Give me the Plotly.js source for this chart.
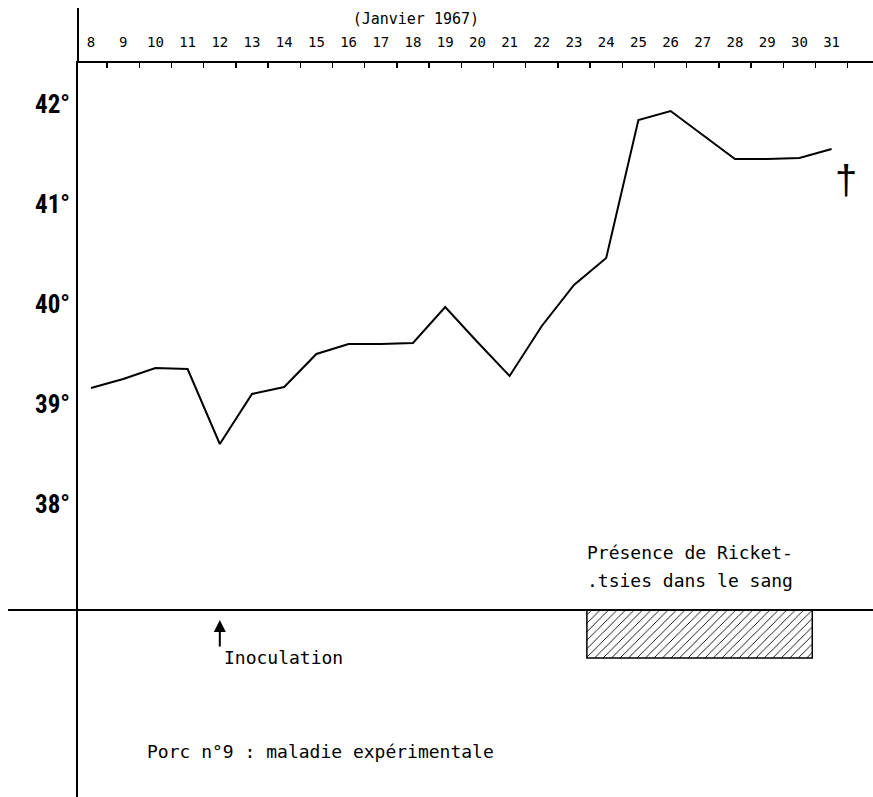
<!DOCTYPE html>
<html>
<head>
<meta charset="utf-8">
<script src="https://cdn.plot.ly/plotly-3.0.1.min.js"></script>
<style>html,body{margin:0;padding:0;background:#fff;}#chart{width:873px;height:797px;}</style>
</head>
<body>
<div id="chart"></div>
<script>
// Days of January 1967
const days = [8, 9, 10, 11, 12, 13, 14, 15, 16, 17, 18, 19, 20, 21, 22, 23, 24, 25, 26, 27, 28, 29, 30, 31];
// Rectal temperature (°C)
const temps = [39.16, 39.25, 39.36, 39.35, 38.60, 39.10, 39.17, 39.50, 39.60, 39.60, 39.61, 39.97,
               39.62, 39.28, 39.78, 40.19, 40.46, 41.84, 41.93, 41.69, 41.45, 41.45, 41.46, 41.55];
const yTickVals = [38, 39, 40, 41, 42];
const yTickText = ['38°', '39°', '40°', '41°', '42°'];
// Rickettsiae present in blood (day span)
const presenceDays = [23.4, 30.4];
const presenceLevels = [36.94, 36.46]; // band top (baseline) and bottom
const inoculationDay = 12;
const deathDay = 31.45;

const mono = 'DejaVu Sans Mono, monospace';

const tempTrace = {
  x: days, y: temps, type: 'scatter', mode: 'lines',
  line: {color: '#000', width: 2}, hoverinfo: 'skip', showlegend: false
};
const presenceTrace = {
  x: [presenceDays[0], presenceDays[1], presenceDays[1], presenceDays[0], presenceDays[0]],
  y: [presenceLevels[0], presenceLevels[0], presenceLevels[1], presenceLevels[1], presenceLevels[0]],
  type: 'scatter', mode: 'lines', fill: 'toself', fillcolor: 'rgba(0,0,0,0)',
  fillpattern: {shape: '/', fgcolor: '#000', bgcolor: '#fff', size: 6, solidity: 0.15},
  line: {color: '#000', width: 1.5}, hoverinfo: 'skip', showlegend: false
};

const layout = {
  width: 873, height: 797,
  margin: {l: 78, r: 0, t: 63, b: 0},
  paper_bgcolor: '#fff', plot_bgcolor: '#fff',
  showlegend: false,
  title: {text: '(Janvier 1967)', font: {family: mono, size: 15, color: '#000'},
          x: 0.425, xref: 'paper', xanchor: 'center', y: 0.977, yref: 'container', yanchor: 'middle'},
  xaxis: {
    range: [7.596, 32.286], side: 'top', showgrid: false, zeroline: false,
    showline: true, linecolor: '#000', linewidth: 2,
    tickvals: days, ticktext: days.map(String), ticks: '',
    ticklabelstandoff: 8,
    tickfont: {family: mono, size: 14, color: '#000'},
    minor: {tick0: 8.5, dtick: 1, ticks: 'inside', ticklen: 5, tickcolor: '#000', tickwidth: 1.5, showgrid: false}
  },
  yaxis: {
    range: [35.07, 42.41], showgrid: false, zeroline: false,
    showline: true, linecolor: '#000', linewidth: 2,
    tickvals: yTickVals, ticktext: yTickText, ticks: '',
    ticklabelstandoff: 1,
    tickfont: {family: 'Liberation Sans Narrow, Roboto Condensed, DejaVu Sans Condensed, sans-serif', size: 25, color: '#000', weight: 'bold'}
  },
  shapes: [
    {type: 'line', xref: 'paper', yref: 'paper', x0: 0, x1: 0, y0: 1, y1: 1.075, line: {color: '#000', width: 2}},
    {type: 'line', xref: 'paper', yref: 'y', x0: -0.088, x1: 1, y0: presenceLevels[0], y1: presenceLevels[0], line: {color: '#000', width: 2}}
  ],
  annotations: [
    {x: inoculationDay, y: 36.84, xref: 'x', yref: 'y', text: '', showarrow: true,
     ax: 0, ay: 28, axref: 'pixel', ayref: 'pixel', arrowhead: 2, arrowsize: 1.2, arrowwidth: 2, arrowcolor: '#000'},
    {x: 12.07, y: 36.47, xref: 'x', yref: 'y', text: 'Inoculation', showarrow: false,
     xanchor: 'left', yanchor: 'middle', font: {family: mono, size: 18, color: '#000'}},
    {x: 23.34, y: 37.52, xref: 'x', yref: 'y', text: 'Présence de Ricket-', showarrow: false,
     xanchor: 'left', yanchor: 'middle', font: {family: mono, size: 18, color: '#000'}},
    {x: 23.34, y: 37.24, xref: 'x', yref: 'y', text: '.tsies dans le sang', showarrow: false,
     xanchor: 'left', yanchor: 'middle', font: {family: mono, size: 18, color: '#000'}},
    {x: 9.68, y: 35.53, xref: 'x', yref: 'y', text: 'Porc n°9 : maladie expérimentale', showarrow: false,
     xanchor: 'left', yanchor: 'middle', font: {family: mono, size: 18, color: '#000'}},
    {x: deathDay, y: 41.24, xref: 'x', yref: 'y', text: '†', showarrow: false,
     xanchor: 'center', yanchor: 'middle', font: {family: 'Liberation Sans, sans-serif', size: 40, color: '#000'}}
  ]
};

Plotly.newPlot('chart', [presenceTrace, tempTrace], layout, {staticPlot: true, displayModeBar: false});
</script>
</body>
</html>
